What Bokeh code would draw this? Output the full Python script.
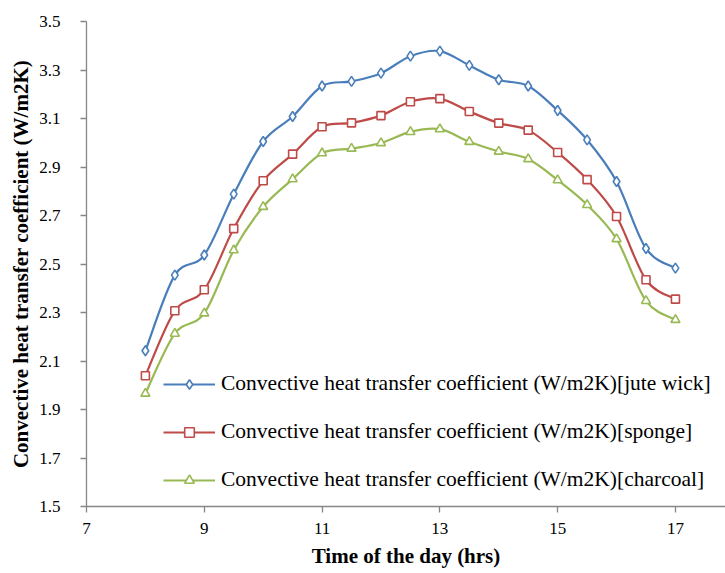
from bokeh.plotting import figure
from bokeh.models import (ColumnDataSource, Range1d, FixedTicker, PrintfTickFormatter,
                          Legend, LegendItem)
from bokeh.embed import file_html
from bokeh.resources import INLINE

# ---------------- data ----------------
hours = [8.0, 8.5, 9.0, 9.5, 10.0, 10.5, 11.0, 11.5, 12.0, 12.5, 13.0,
         13.5, 14.0, 14.5, 15.0, 15.5, 16.0, 16.5, 17.0]
jute_wick = [2.142, 2.454, 2.537, 2.788, 3.005, 3.108, 3.234, 3.253, 3.287, 3.357,
             3.378, 3.319, 3.260, 3.234, 3.133, 3.012, 2.840, 2.564, 2.483]
sponge = [2.039, 2.307, 2.394, 2.646, 2.843, 2.953, 3.066, 3.082, 3.112, 3.169,
          3.182, 3.129, 3.081, 3.052, 2.960, 2.848, 2.696, 2.435, 2.355]
charcoal = [1.966, 2.213, 2.297, 2.557, 2.736, 2.850, 2.957, 2.976, 2.999, 3.045,
            3.056, 3.004, 2.964, 2.933, 2.846, 2.744, 2.603, 2.348, 2.270]
series_labels = [
    "Convective heat transfer coefficient (W/m2K)[jute wick]",
    "Convective heat transfer coefficient (W/m2K)[sponge]",
    "Convective heat transfer coefficient (W/m2K)[charcoal]",
]
x_ticks = [7, 9, 11, 13, 15, 17, 19]
y_ticks = [1.5, 1.7, 1.9, 2.1, 2.3, 2.5, 2.7, 2.9, 3.1, 3.3, 3.5]

colors = ["#4A7EBB", "#BE4B48", "#98B954"]
markers = ["diamond", "square", "triangle"]
msizes = [10, 8, 9]

FONT = "Liberation Serif"


def smooth_segments(xs, ys):
    """Bezier segments (Excel-style smoothed line) through the data points."""
    n = len(xs)
    d = dict(x0=[], y0=[], x1=[], y1=[], cx0=[], cy0=[], cx1=[], cy1=[])
    for i in range(n - 1):
        im = max(i - 1, 0)
        ip = min(i + 2, n - 1)
        d["x0"].append(xs[i]); d["y0"].append(ys[i])
        d["x1"].append(xs[i + 1]); d["y1"].append(ys[i + 1])
        d["cx0"].append(xs[i] + (xs[i + 1] - xs[im]) / 6.0)
        d["cy0"].append(ys[i] + (ys[i + 1] - ys[im]) / 6.0)
        d["cx1"].append(xs[i + 1] - (xs[ip] - xs[i]) / 6.0)
        d["cy1"].append(ys[i + 1] - (ys[ip] - ys[i]) / 6.0)
    return d


p = figure(width=725, height=573, output_backend="svg", toolbar_location=None,
           x_range=Range1d(7, 17.85), y_range=Range1d(1.5, 3.5),
           min_border_left=86, min_border_right=0, min_border_top=21,
           min_border_bottom=67)
p.outline_line_color = None
p.xgrid.visible = False
p.ygrid.visible = False
p.background_fill_color = "white"
p.border_fill_color = "white"

items = []
for ys, col, mk, ms, lab in zip([jute_wick, sponge, charcoal], colors, markers,
                                msizes, series_labels):
    src = ColumnDataSource(smooth_segments(hours, ys))
    br = p.bezier(x0="x0", y0="y0", x1="x1", y1="y1", cx0="cx0", cy0="cy0",
                  cx1="cx1", cy1="cy1", source=src, line_color=col, line_width=2.2)
    sr = p.scatter(hours, ys, marker=mk, size=ms, line_color=col, line_width=1.6,
                   fill_color="white")
    items.append(LegendItem(label=lab, renderers=[br, sr]))

legend = Legend(items=items, location=(77, 14), padding=0, margin=0,
                border_line_color=None, background_fill_alpha=0,
                glyph_width=52, glyph_height=24, label_height=24, spacing=23,
                label_standoff=6, label_text_font=FONT,
                label_text_font_size="21.5px", label_text_color="black")
p.add_layout(legend, "center")

for ax in (p.xaxis[0], p.yaxis[0]):
    ax.axis_line_color = "#868686"
    ax.major_tick_line_color = "#868686"
    ax.axis_line_width = 1.3
    ax.major_tick_line_width = 1.3
    ax.major_tick_out = 6
    ax.major_tick_in = 0
    ax.minor_tick_line_color = None
    ax.major_label_text_font = FONT
    ax.major_label_text_font_size = "17px"
    ax.major_label_text_color = "black"
    ax.axis_label_text_font = FONT
    ax.axis_label_text_font_style = "bold"
    ax.axis_label_text_font_size = "21px"
    ax.axis_label_text_color = "black"

p.xaxis.ticker = FixedTicker(ticks=x_ticks)
p.yaxis.ticker = FixedTicker(ticks=y_ticks)
p.yaxis.formatter = PrintfTickFormatter(format="%.1f")
p.xaxis.axis_label = "Time of the day (hrs)"
p.yaxis.axis_label = "Convective heat transfer coefficient (W/m2K)"
p.yaxis.major_label_standoff = 20
p.yaxis.axis_label_standoff = 3
p.xaxis.major_label_standoff = 10
p.xaxis.axis_label_standoff = 7

open("out.html", "w").write(file_html(p, INLINE))
